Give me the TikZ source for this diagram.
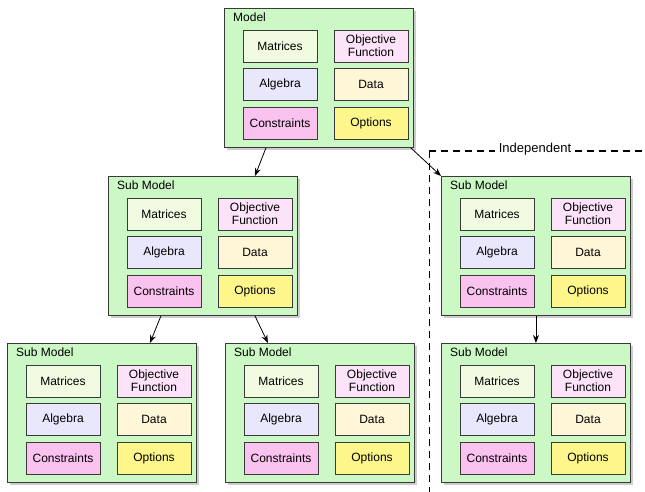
\documentclass[tikz,border=0pt]{standalone}
\usepackage{fontspec}
\setmainfont{Liberation Sans}
\usetikzlibrary{shadows,arrows.meta}

\definecolor{outerfill}{HTML}{CCF8C6}
\definecolor{matfill}{HTML}{F1FBE2}
\definecolor{objfill}{HTML}{FCE3FA}
\definecolor{algfill}{HTML}{E9E7FC}
\definecolor{datfill}{HTML}{FFF7D8}
\definecolor{confill}{HTML}{FAC2EF}
\definecolor{optfill}{HTML}{FDF68A}
\definecolor{edge}{HTML}{3A3A3A}

\tikzset{
  outerbox/.style={draw=edge, line width=0.9pt, fill=outerfill,
    minimum width=189pt, minimum height=139pt, inner sep=0pt,
    drop shadow={shadow xshift=2.5pt, shadow yshift=-3pt, fill=black!40}},
  inbox/.style={draw=edge, line width=0.8pt, minimum width=74pt,
    minimum height=32pt, inner sep=0pt, align=center,
    font=\fontsize{12}{13}\selectfont},
  titletext/.style={inner sep=0pt, font=\fontsize{12}{13}\selectfont},
  link/.style={line width=0.8pt, -{Stealth[length=8pt,width=6pt]}},
  sep/.style={line width=1pt, dash pattern=on 7pt off 5pt}
}

% One model container with its six component blocks
\newcommand\modelbox[4]{%
  \node[outerbox, anchor=north west] (#1) at (#2,#3) {};
  \node[titletext, anchor=west] (#1-t) at ([xshift=9pt,yshift=-9.5pt]#1.north west) {#4};
  \node[inbox, fill=matfill] (#1-mat) at ([xshift=56pt,yshift=-38pt]#1.north west) {Matrices};
  \node[inbox, fill=objfill] (#1-obj) at ([xshift=147pt,yshift=-38pt]#1.north west) {Objective\\Function};
  \node[inbox, fill=algfill] (#1-alg) at ([xshift=56pt,yshift=-76pt]#1.north west) {Algebra};
  \node[inbox, fill=datfill] (#1-dat) at ([xshift=147pt,yshift=-76pt]#1.north west) {Data};
  \node[inbox, fill=confill] (#1-con) at ([xshift=56pt,yshift=-115pt]#1.north west) {Constraints};
  \node[inbox, fill=optfill] (#1-opt) at ([xshift=147pt,yshift=-115pt]#1.north west) {Options};
}

\begin{document}
\begin{tikzpicture}[x=1pt, y=-1pt]
  \useasboundingbox (0,0) rectangle (645,492);

  \modelbox{top}{224}{8}{Model}
  \modelbox{midL}{108}{176}{Sub Model}
  \modelbox{midR}{441}{176}{Sub Model}
  \modelbox{botL}{7}{343}{Sub Model}
  \modelbox{botM}{225}{343}{Sub Model}
  \modelbox{botR}{441}{343}{Sub Model}

  % separator for the independent branch
  \coordinate (corner) at (429,151);
  \coordinate (rightend) at (645,151);
  \coordinate (lowend) at (429,492);
  \node[titletext, font=\fontsize{13}{14}\selectfont] (indep) at (535,149) {Independent};
  \draw[sep] (corner) -- ([xshift=-4pt]indep.west |- corner);
  \draw[sep] ([xshift=4pt]indep.east |- corner) -- (rightend);
  \draw[sep] (corner) -- (lowend);

  % parent-child links
  \draw[link] ([xshift=-53pt]top.south) -- ([xshift=52pt]midL.north);
  \draw[link] ([xshift=-3pt]top.south east) -- (midR.north west);
  \draw[link] ([xshift=-42pt]midL.south) -- ([xshift=48pt]botL.north);
  \draw[link] ([xshift=52pt]midL.south) -- ([xshift=-52pt]botM.north);
  \draw[link] (midR.south) -- (botR.north);
\end{tikzpicture}
\end{document}
